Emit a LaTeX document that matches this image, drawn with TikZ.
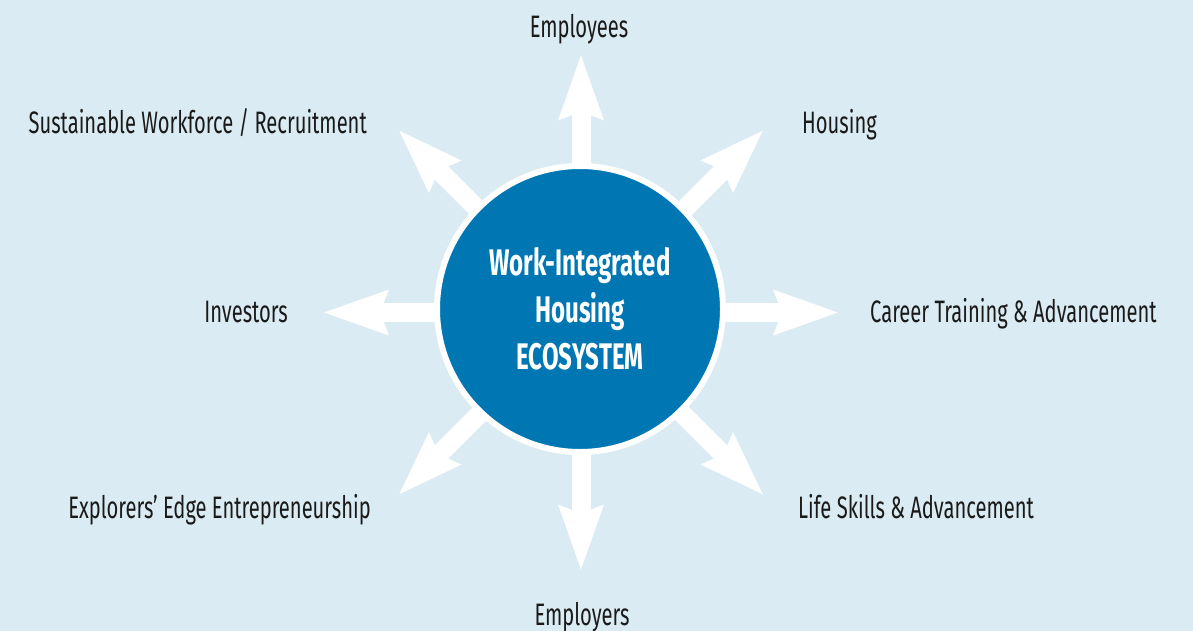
\documentclass[tikz,border=0pt]{standalone}
\usepackage{fontspec}
\setmainfont{Fira Sans}[FakeStretch=0.65]
\usepackage{tikz}
\usetikzlibrary{arrows.meta,shapes,positioning}
\definecolor{skyback}{HTML}{DAEBF3}
\definecolor{hubblue}{HTML}{0077B3}
\definecolor{inkdark}{HTML}{1A1A1A}
\tikzstyle{spoke} = [white, line width=19pt,
    -{Stealth[length=65pt, width=46pt, inset=9pt, line width=0pt]}]
\tikzstyle{hubcircle} = [draw=white, line width=6pt, circle, fill=hubblue,
    minimum size=286pt, inner sep=0pt, text=white, align=center,
    font=\fontsize{37}{47}\selectfont\bfseries]
\tikzstyle{spoketext} = [text=inkdark, inner sep=0pt,
    font=\fontsize{31}{37}\selectfont]

\begin{document}
\begin{tikzpicture}[x=1pt, y=-1pt]
  \fill[skyback] (0,0) rectangle (1193,631);
  \useasboundingbox (0,0) rectangle (1193,631);
  \coordinate (hub) at (581,312.5);
  % eight white spokes, drawn under the circle
  \foreach \a/\n in {270/up, 315/ur, 0/r, 45/dr, 90/dn, 135/dl, 180/l, 225/ul}
    \draw [spoke] (hub) -- ++(\a:257) coordinate (t-\n);
  \node [hubcircle] (eco) at (580,309) {Work-Integrated\\Housing\\ECOSYSTEM};
  \node [spoketext, anchor=base] (emp) at (579,38) {Employees};
  \node [spoketext, anchor=base west] (hous) at (802,134) {Housing};
  \node [spoketext, anchor=base west] (career) at (870,322) {Career Training \& Advancement};
  \node [spoketext, anchor=base west] (life) at (798,518) {Life Skills \& Advancement};
  \node [spoketext, anchor=base] (empr) at (582,625) {Employers};
  \node [spoketext, anchor=base east] (explor) at (371,518) {Explorers’ Edge Entrepreneurship};
  \node [spoketext, anchor=base east] (invest) at (288,322) {Investors};
  \node [spoketext, anchor=base east] (sust) at (367,134) {Sustainable Workforce / Recruitment};
\end{tikzpicture}
\end{document}
